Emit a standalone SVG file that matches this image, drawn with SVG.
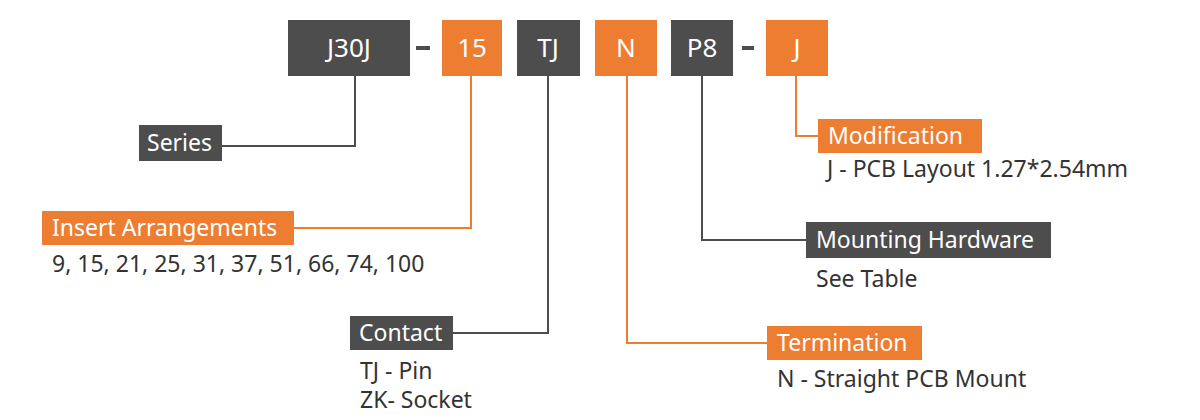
<svg xmlns="http://www.w3.org/2000/svg" width="1200" height="420" viewBox="0 0 1200 420">
<style>
.g{fill:#4d4d4d}.o{fill:#ed7d31}
.bt{font-family:"Noto Sans","Open Sans",sans-serif;font-size:26px;fill:#fff;text-anchor:middle}
.lt{font-family:"Noto Sans","Open Sans",sans-serif;font-size:23px;fill:#fff}
.dt{font-family:"Noto Sans","Open Sans",sans-serif;font-size:23px;fill:#333}
.c{fill:none;stroke:#4d4d4d;stroke-width:2}
.oc{fill:none;stroke:#ed7d31;stroke-width:2}
</style>
<rect width="1200" height="420" fill="#fff"/>
<g id="connectors">
<polyline class="c" points="355,76 355,146 222,146"/>
<polyline class="oc" points="471,76 471,228 294,228"/>
<polyline class="c" points="548,76 548,333 453,333"/>
<polyline class="oc" points="627,76 627,343 767,343"/>
<polyline class="c" points="702,76 702,240 806,240"/>
<polyline class="oc" points="796,76 796,136 818,136"/>
</g>
<g id="code">
<rect class="g" x="288" y="20" width="122" height="56"/><text class="bt" x="349" y="57">J30J</text>
<rect class="g" x="416" y="46" width="14" height="4"/>
<rect class="o" x="442" y="20" width="60" height="56"/><text class="bt" x="472" y="57">15</text>
<rect class="g" x="517" y="20" width="63" height="56"/><text class="bt" x="548" y="57">TJ</text>
<rect class="o" x="595" y="20" width="62" height="56"/><text class="bt" x="626" y="57">N</text>
<rect class="g" x="671" y="20" width="62" height="56"/><text class="bt" x="702" y="57">P8</text>
<rect class="g" x="742" y="46" width="12" height="4"/>
<rect class="o" x="766" y="20" width="62" height="56"/><text class="bt" x="797" y="57">J</text>
</g>
<g id="series"><rect class="g" x="139" y="125" width="83" height="36"/><text class="lt" x="147" y="151">Series</text></g>
<g id="insert"><rect class="o" x="42" y="211" width="252" height="34"/><text class="lt" x="52" y="236">Insert Arrangements</text>
<text class="dt" x="52" y="272">9, 15, 21, 25, 31, 37, 51, 66, 74, 100</text></g>
<g id="contact"><rect class="g" x="350" y="316" width="103" height="34"/><text class="lt" x="359" y="341">Contact</text>
<text class="dt" x="360" y="379">TJ - Pin</text><text class="dt" x="360" y="408">ZK- Socket</text></g>
<g id="termination"><rect class="o" x="767" y="326" width="155" height="34"/><text class="lt" x="777" y="351">Termination</text>
<text class="dt" x="777" y="387">N - Straight PCB Mount</text></g>
<g id="mounting"><rect class="g" x="806" y="222" width="245" height="36"/><text class="lt" x="816" y="248">Mounting Hardware</text>
<text class="dt" x="816" y="287">See Table</text></g>
<g id="modification"><rect class="o" x="818" y="119" width="164" height="34"/><text class="lt" x="828" y="144">Modification</text>
<text class="dt" x="827" y="177">J - PCB Layout 1.27*2.54mm</text></g>
</svg>
